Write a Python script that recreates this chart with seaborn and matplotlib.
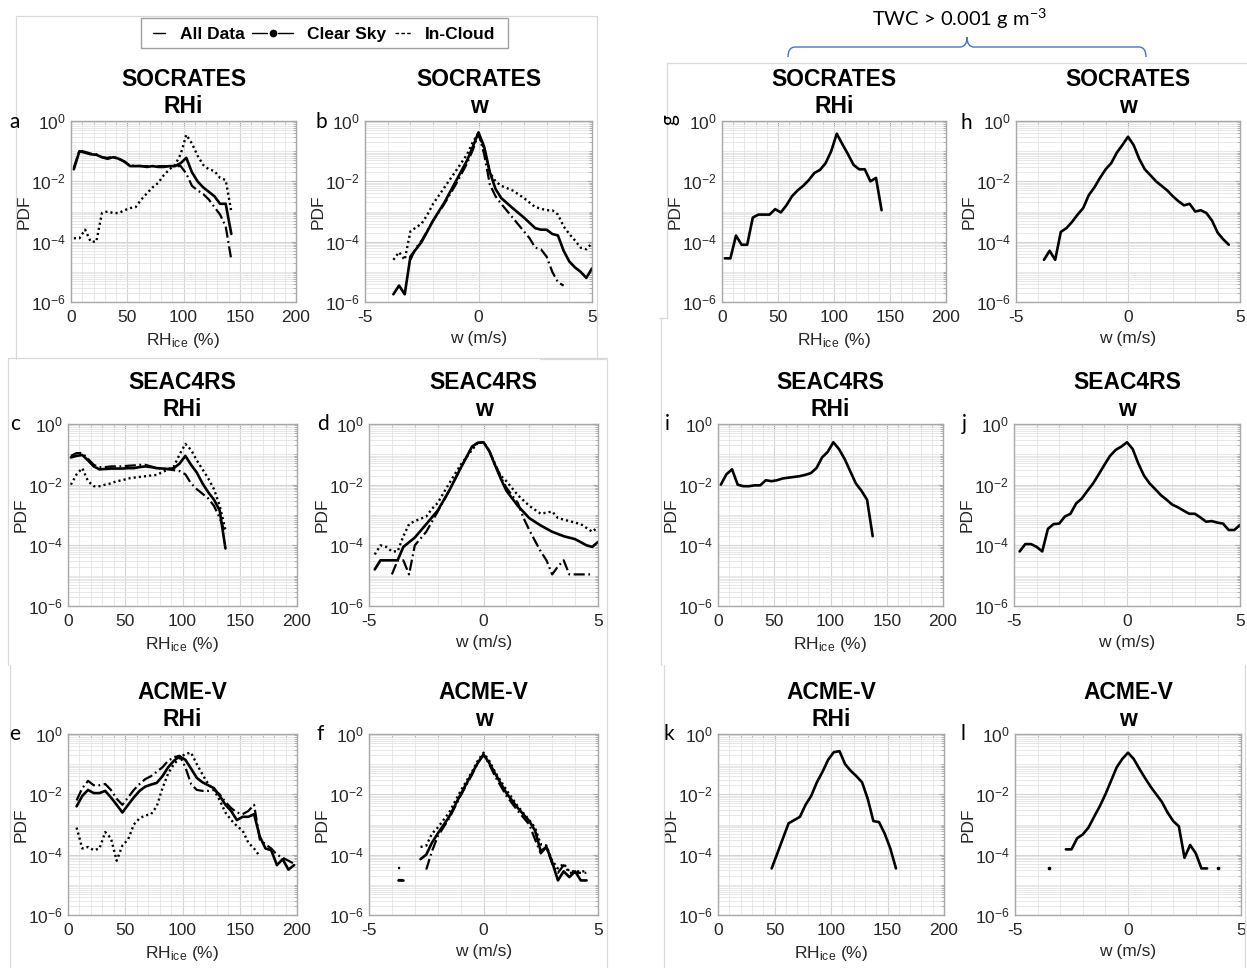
import numpy as np
import pandas as pd
import matplotlib
matplotlib.use("Agg")
import matplotlib.pyplot as plt
import seaborn as sns
from matplotlib.lines import Line2D
from matplotlib.path import Path
from matplotlib.patches import PathPatch, Rectangle
from matplotlib.ticker import FixedLocator, LogLocator, MultipleLocator, NullFormatter

# ---------------------------------------------------------------------------
# PDFs of ice relative humidity (RHi, %) and vertical velocity (w, m/s)
# ---------------------------------------------------------------------------
# RHi bin centres (5 % bins)
rhi_bins_soc = np.arange(2.5, 145, 5)          # 2.5 ... 142.5
rhi_bins_seac = np.arange(2.5, 140, 5)         # 2.5 ... 137.5
rhi_bins_acme = np.arange(7.5, 200, 5)         # 7.5 ... 197.5
rhi_bins_acme_cloud = np.arange(7.5, 170, 5)   # 7.5 ... 167.5
rhi_bins_acme_twc = np.arange(47.5, 160, 5)    # 47.5 ... 157.5

# --- SOCRATES, RHi
soc_rhi_all = [2.5e-2, 1.0e-1, 8.9e-2, 7.9e-2, 7.6e-2, 6.3e-2, 5.6e-2, 6.3e-2, 5.6e-2, 4.5e-2,
               3.2e-2, 3.2e-2, 3.2e-2, 3.0e-2, 3.2e-2, 3.0e-2, 3.0e-2, 3.2e-2, 3.2e-2, 4.0e-2,
               6.0e-2, 2.0e-2, 1.0e-2, 6.3e-3, 4.5e-3, 3.2e-3, 1.8e-3, 1.8e-3, 1.8e-4]
soc_rhi_clear = [2.8e-2, 1.05e-1, 9.5e-2, 8.3e-2, 7.9e-2, 6.3e-2, 6.0e-2, 6.6e-2, 5.6e-2, 4.5e-2,
                 3.3e-2, 3.3e-2, 3.2e-2, 3.2e-2, 3.2e-2, 3.2e-2, 3.2e-2, 3.2e-2, 3.2e-2, 3.2e-2,
                 1.8e-2, 7.1e-3, 5.0e-3, 3.8e-3, 2.5e-3, 1.4e-3, 7.9e-4, 3.2e-4, 2.5e-5]
soc_rhi_cloud = [1.3e-4, 1.3e-4, 2.5e-4, 1.0e-4, 1.0e-4, 8.9e-4, 1.0e-3, 8.9e-4, 8.9e-4, 1.1e-3,
                 1.3e-3, 1.4e-3, 2.5e-3, 4.0e-3, 6.3e-3, 8.9e-3, 1.6e-2, 2.5e-2, 3.5e-2, 7.9e-2,
                 3.5e-1, 1.8e-1, 7.1e-2, 3.5e-2, 2.5e-2, 2.2e-2, 1.3e-2, 1.1e-2, 1.0e-3]

# --- SOCRATES, w
soc_w_all_x = [-3.75, -3.5, -3.25, -3.0, -2.5, -2.0, -1.5, -1.0, -0.5, -0.25, 0, 0.25, 0.5, 0.75,
               1.0, 1.5, 2.0, 2.5, 2.75, 3.0, 3.25, 3.5, 3.75, 4.0, 4.25, 4.5, 4.75, 5.0]
soc_w_all = [1.8e-6, 3.5e-6, 1.8e-6, 3.2e-5, 1.0e-4, 5.0e-4, 2.0e-3, 1.0e-2, 5.0e-2, 1.4e-1,
             4.2e-1, 1.4e-1, 2.0e-2, 5.6e-3, 2.8e-3, 1.3e-3, 6.3e-4, 2.8e-4, 2.5e-4, 2.5e-4,
             1.8e-4, 1.6e-4, 5.0e-5, 2.2e-5, 1.4e-5, 1.0e-5, 6.3e-6, 1.3e-5]
soc_w_clear_x = [-3.0, -2.75, -2.5, -2.0, -1.5, -1.0, -0.5, -0.25, 0, 0.25, 0.5, 0.75, 1.0, 1.5,
                 2.0, 2.25, 2.5, 2.75, 3.0, 3.25, 3.5, 3.75]
soc_w_clear = [2.5e-5, 6.3e-5, 1.1e-4, 5.0e-4, 1.8e-3, 7.9e-3, 4.0e-2, 1.1e-1, 3.8e-1, 7.9e-2,
               7.9e-3, 3.2e-3, 1.8e-3, 6.3e-4, 2.2e-4, 1.3e-4, 6.3e-5, 5.6e-5, 3.2e-5, 1.0e-5,
               4.5e-6, 3.5e-6]
soc_w_cloud_x = [-3.75, -3.5, -3.25, -3.0, -2.5, -2.25, -2.0, -1.5, -1.0, -0.5, -0.25, 0, 0.25,
                 0.5, 0.75, 1.0, 1.5, 2.0, 2.5, 3.0, 3.25, 3.5, 3.75, 4.0, 4.25, 4.5, 4.75, 5.0]
soc_w_cloud = [2.5e-5, 4.5e-5, 2.5e-5, 2.2e-4, 4.0e-4, 7.9e-4, 1.8e-3, 6.3e-3, 2.2e-2, 7.9e-2,
               2.0e-1, 4.0e-1, 1.1e-1, 2.0e-2, 1.0e-2, 7.1e-3, 5.0e-3, 2.8e-3, 1.4e-3, 1.1e-3,
               1.1e-3, 7.9e-4, 3.2e-4, 1.8e-4, 1.1e-4, 6.3e-5, 5.6e-5, 8.9e-5]

# --- SEAC4RS, RHi
seac_rhi_all = [7.9e-2, 8.9e-2, 9.5e-2, 6.3e-2, 4.0e-2, 3.2e-2, 3.3e-2, 3.4e-2, 3.4e-2, 3.4e-2,
                3.5e-2, 3.5e-2, 3.8e-2, 4.0e-2, 3.8e-2, 3.5e-2, 3.4e-2, 3.3e-2, 3.5e-2, 5.0e-2,
                8.9e-2, 4.5e-2, 2.5e-2, 1.1e-2, 5.6e-3, 3.2e-3, 1.4e-3, 7.9e-5]
seac_rhi_clear = [8.9e-2, 1.1e-1, 1.1e-1, 7.1e-2, 4.5e-2, 3.8e-2, 3.8e-2, 4.0e-2, 4.0e-2, 4.0e-2,
                  4.2e-2, 4.3e-2, 4.5e-2, 4.5e-2, 4.0e-2, 3.5e-2, 3.4e-2, 3.2e-2, 3.0e-2, 2.8e-2,
                  2.2e-2, 1.1e-2, 7.1e-3, 5.0e-3, 3.5e-3, 2.0e-3, 7.9e-4, 2.5e-4]
seac_rhi_cloud = [1.0e-2, 2.2e-2, 3.5e-2, 1.3e-2, 8.9e-3, 8.9e-3, 1.0e-2, 1.1e-2, 1.3e-2, 1.4e-2,
                  1.6e-2, 1.7e-2, 1.8e-2, 1.9e-2, 2.0e-2, 2.1e-2, 2.6e-2, 3.2e-2, 4.0e-2, 1.0e-1,
                  2.2e-1, 1.4e-1, 6.3e-2, 3.2e-2, 1.6e-2, 7.1e-3, 2.0e-3, 3.2e-4]

# --- SEAC4RS, w
seac_w_all_x = [-4.75, -4.5, -4.25, -4.0, -3.75, -3.5, -3.0, -2.5, -2.0, -1.5, -1.0, -0.75, -0.5,
                -0.25, 0, 0.25, 0.5, 0.75, 1.0, 1.5, 2.0, 2.5, 3.0, 3.5, 4.0, 4.5, 4.75, 5.0]
seac_w_all = [1.6e-5, 3.2e-5, 3.2e-5, 3.2e-5, 3.2e-5, 8.9e-5, 1.8e-4, 5.0e-4, 1.4e-3, 6.3e-3,
              3.5e-2, 7.9e-2, 1.8e-1, 2.4e-1, 2.5e-1, 1.3e-1, 4.5e-2, 1.6e-2, 6.3e-3, 2.0e-3,
              7.9e-4, 4.5e-4, 2.8e-4, 2.0e-4, 1.6e-4, 1.0e-4, 8.9e-5, 1.3e-4]
seac_w_clear_x = [-4.0, -3.75, -3.5, -3.25, -3.0, -2.5, -2.0, -1.5, -1.0, -0.5, -0.25, 0, 0.25,
                  0.5, 0.75, 1.0, 1.5, 1.75, 2.0, 2.25, 2.5, 2.75, 3.0, 3.25, 3.5, 3.75, 4.0,
                  4.25, 4.75]
seac_w_clear = [1.1e-5, 3.2e-5, 3.2e-5, 1.1e-5, 1.0e-4, 2.8e-4, 1.3e-3, 6.3e-3, 3.5e-2, 1.8e-1,
                2.4e-1, 2.5e-1, 1.3e-1, 5.0e-2, 1.8e-2, 7.9e-3, 2.5e-3, 7.9e-4, 3.2e-4, 1.4e-4,
                6.3e-5, 3.2e-5, 1.1e-5, 2.0e-5, 3.2e-5, 1.1e-5, 1.1e-5, 1.1e-5, 1.1e-5]
seac_w_cloud_x = [-4.75, -4.5, -4.25, -4.0, -3.75, -3.5, -3.25, -3.0, -2.5, -2.25, -2.0, -1.5,
                  -1.0, -0.5, -0.25, 0, 0.25, 0.5, 0.75, 1.0, 1.5, 2.0, 2.5, 3.0, 3.25, 3.75,
                  4.25, 4.75, 5.0]
seac_w_cloud = [5.0e-5, 1.0e-4, 8.9e-5, 6.3e-5, 6.3e-5, 2.0e-4, 5.0e-4, 6.3e-4, 8.9e-4, 1.6e-3,
                2.5e-3, 1.1e-2, 4.5e-2, 1.4e-1, 2.4e-1, 2.5e-1, 1.3e-1, 4.5e-2, 2.0e-2, 1.3e-2,
                4.5e-3, 2.0e-3, 1.1e-3, 1.3e-3, 7.9e-4, 6.3e-4, 5.0e-4, 2.8e-4, 4.0e-4]

# --- ACME-V, RHi
acme_rhi_all = [4.0e-3, 8.9e-3, 1.4e-2, 1.1e-2, 1.1e-2, 1.3e-2, 7.9e-3, 4.5e-3, 2.5e-3, 4.5e-3,
                7.9e-3, 1.3e-2, 1.8e-2, 2.1e-2, 2.4e-2, 4.0e-2, 7.9e-2, 1.3e-1, 1.8e-1, 1.4e-1,
                7.1e-2, 3.5e-2, 2.5e-2, 2.0e-2, 1.6e-2, 8.9e-3, 4.5e-3, 2.8e-3, 1.4e-3, 1.8e-3,
                1.8e-3, 2.2e-3, 4.0e-4, 1.6e-4, 1.4e-4, 4.5e-5, 7.1e-5, 3.2e-5, 4.5e-5]
acme_rhi_clear = [6.3e-3, 1.6e-2, 2.8e-2, 2.0e-2, 2.0e-2, 2.2e-2, 1.4e-2, 7.1e-3, 4.5e-3, 7.9e-3,
                  1.4e-2, 2.2e-2, 3.2e-2, 4.0e-2, 5.6e-2, 7.9e-2, 1.3e-1, 1.7e-1, 1.9e-1, 7.9e-2,
                  2.2e-2, 1.4e-2, 1.3e-2, 1.3e-2, 1.4e-2, 1.0e-2, 5.6e-3, 3.5e-3, 2.5e-3, 2.2e-3,
                  2.8e-3, 4.5e-3, 3.2e-4, 2.2e-4, 1.6e-4, 1.0e-4, 7.9e-5, 6.3e-5, 5.0e-5]
acme_rhi_cloud = [7.9e-4, 1.6e-4, 1.8e-4, 1.4e-4, 1.6e-4, 5.6e-4, 3.5e-4, 6.3e-5, 2.0e-4, 3.2e-4,
                  1.0e-3, 1.6e-3, 2.0e-3, 2.2e-3, 4.0e-3, 1.6e-2, 5.0e-2, 1.0e-1, 1.6e-1, 2.2e-1,
                  2.4e-1, 1.0e-1, 4.5e-2, 2.2e-2, 1.4e-2, 6.3e-3, 2.5e-3, 1.4e-3, 8.9e-4, 6.3e-4,
                  2.5e-4, 1.6e-4, 8.9e-5]

# --- ACME-V, w (nan marks an empty bin)
acme_w_x = [-3.75, -3.5, -3.0, -2.75, -2.5, -2.25, -2.0, -1.5, -1.0, -0.5, -0.25, 0, 0.25, 0.5,
            1.0, 1.5, 2.0, 2.25, 2.5, 2.75, 3.0, 3.25, 3.5, 3.75, 4.0, 4.25, 4.5]
acme_w_all = [1.4e-5, 1.4e-5, np.nan, 7.1e-5, 1.0e-4, 2.5e-4, 5.0e-4, 1.8e-3, 1.0e-2, 5.0e-2,
              1.1e-1, 2.1e-1, 1.1e-1, 5.0e-2, 1.1e-2, 3.5e-3, 1.3e-3, 6.3e-4, 1.3e-4, 1.8e-4,
              5.6e-5, 1.4e-5, 2.8e-5, 1.8e-5, 2.8e-5, 1.4e-5, 1.4e-5]
acme_w_clear = [1.4e-5, 1.4e-5, np.nan, np.nan, 3.2e-5, 1.3e-4, 4.0e-4, 1.6e-3, 8.9e-3, 4.5e-2,
                1.1e-1, 2.0e-1, 1.0e-1, 4.0e-2, 8.9e-3, 2.8e-3, 1.0e-3, 3.2e-4, 1.1e-4, 1.8e-4,
                5.0e-5, 2.5e-5, 4.5e-5, 2.5e-5, 2.5e-5, 2.5e-5, 2.5e-5]
acme_w_cloud = [3.5e-5, 3.5e-5, np.nan, 1.8e-4, 2.0e-4, 5.0e-4, 7.9e-4, 2.5e-3, 1.3e-2, 5.6e-2,
                1.3e-1, 2.4e-1, 1.3e-1, 5.6e-2, 1.4e-2, 4.0e-3, 1.4e-3, 7.9e-4, 2.2e-4, 2.0e-4,
                6.3e-5, 3.5e-5, 5.0e-5, 2.8e-5, 2.8e-5, 2.8e-5, 2.8e-5]

# --- TWC > 0.001 g m-3 (in-cloud, all data)
soc_twc_rhi = [2.8e-5, 2.8e-5, 1.6e-4, 7.9e-5, 7.9e-5, 6.3e-4, 7.9e-4, 7.9e-4, 7.9e-4, 1.2e-3,
               9.3e-4, 1.6e-3, 3.2e-3, 5.0e-3, 7.1e-3, 1.1e-2, 1.9e-2, 2.4e-2, 4.0e-2, 1.0e-1,
               3.8e-1, 1.7e-1, 7.9e-2, 3.5e-2, 2.5e-2, 2.5e-2, 1.0e-2, 1.3e-2, 1.1e-3]
soc_twc_w_x = [-3.75, -3.5, -3.25, -3.0, -2.75, -2.5, -2.25, -2.0, -1.75, -1.5, -1.25, -1.0,
               -0.75, -0.5, -0.25, 0, 0.25, 0.5, 0.75, 1.0, 1.25, 1.5, 1.75, 2.0, 2.25, 2.5,
               2.75, 3.0, 3.25, 3.5, 3.75, 4.0, 4.25, 4.5]
soc_twc_w = [2.5e-5, 5.0e-5, 2.5e-5, 2.1e-4, 2.8e-4, 4.5e-4, 7.9e-4, 1.3e-3, 3.5e-3, 6.3e-3,
             1.3e-2, 2.5e-2, 4.0e-2, 8.9e-2, 1.6e-1, 3.0e-1, 1.6e-1, 5.6e-2, 2.5e-2, 1.6e-2,
             1.0e-2, 7.1e-3, 5.0e-3, 3.2e-3, 2.2e-3, 1.6e-3, 1.8e-3, 1.0e-3, 1.1e-3, 8.9e-4,
             5.0e-4, 2.0e-4, 1.2e-4, 7.9e-5]
seac_twc_rhi = [1.0e-2, 2.2e-2, 3.2e-2, 1.0e-2, 8.9e-3, 8.9e-3, 9.5e-3, 9.5e-3, 1.4e-2, 1.3e-2,
                1.4e-2, 1.6e-2, 1.7e-2, 1.8e-2, 1.9e-2, 2.1e-2, 2.4e-2, 3.5e-2, 7.9e-2, 1.2e-1,
                2.5e-1, 1.5e-1, 7.1e-2, 2.8e-2, 1.1e-2, 6.3e-3, 3.2e-3, 2.0e-4]
seac_twc_w_x = [-4.75, -4.5, -4.25, -4.0, -3.75, -3.5, -3.25, -3.0, -2.75, -2.5, -2.25, -2.0,
                -1.75, -1.5, -1.25, -1.0, -0.75, -0.5, -0.25, 0, 0.25, 0.5, 0.75, 1.0, 1.25,
                1.5, 1.75, 2.0, 2.25, 2.5, 2.75, 3.0, 3.25, 3.5, 3.75, 4.0, 4.25, 4.5, 4.75, 5.0]
seac_twc_w = [6.3e-5, 1.1e-4, 1.1e-4, 8.9e-5, 6.3e-5, 3.5e-4, 5.0e-4, 5.2e-4, 8.9e-4, 1.1e-3,
              2.4e-3, 3.5e-3, 6.3e-3, 1.1e-2, 2.2e-2, 4.5e-2, 8.9e-2, 1.4e-1, 1.8e-1, 2.5e-1,
              1.5e-1, 5.0e-2, 2.0e-2, 1.1e-2, 7.1e-3, 4.5e-3, 3.2e-3, 2.2e-3, 1.8e-3, 1.4e-3,
              1.1e-3, 1.1e-3, 8.3e-4, 6.0e-4, 6.3e-4, 5.6e-4, 5.2e-4, 3.2e-4, 3.2e-4, 4.7e-4]
acme_twc_rhi = [3.5e-5, 1.1e-4, 3.5e-4, 1.1e-3, 1.4e-3, 1.8e-3, 4.5e-3, 8.9e-3, 2.5e-2, 5.6e-2,
                1.4e-1, 2.5e-1, 2.7e-1, 1.0e-1, 6.0e-2, 4.0e-2, 2.5e-2, 7.1e-3, 1.3e-3, 1.2e-3,
                5.0e-4, 1.6e-4, 3.5e-5]
acme_twc_w_x = [-3.5, -3.0, -2.75, -2.5, -2.25, -2.0, -1.75, -1.5, -1.25, -1.0, -0.75, -0.5,
                -0.25, 0, 0.25, 0.5, 0.75, 1.0, 1.25, 1.5, 1.75, 2.0, 2.25, 2.5, 2.75, 3.0,
                3.25, 3.5, 3.75, 4.0]
acme_twc_w = [3.5e-5, np.nan, 1.5e-4, 1.5e-4, 3.5e-4, 4.7e-4, 7.9e-4, 1.8e-3, 4.0e-3, 1.0e-2,
              2.8e-2, 7.9e-2, 1.5e-1, 2.4e-1, 1.5e-1, 7.1e-2, 3.5e-2, 1.8e-2, 1.0e-2, 5.6e-3,
              2.5e-3, 1.3e-3, 8.7e-4, 7.9e-5, 2.1e-4, 1.1e-4, 3.5e-5, 3.5e-5, np.nan, 3.5e-5]

# legend labels and the caption over the right-hand block
series_labels = ["All Data", "Clear Sky", "In-Cloud"]
twc_label = "TWC > 0.001 g m$^{\\mathregular{-3}}$"

# ---------------------------------------------------------------------------
# styling
# ---------------------------------------------------------------------------
sns.set_theme(style="white")
plt.rcParams["font.family"] = ["Liberation Sans", "DejaVu Sans"]
plt.rcParams["mathtext.fontset"] = "custom"
plt.rcParams["mathtext.rm"] = "Liberation Sans"
plt.rcParams["mathtext.it"] = "Liberation Sans:italic"
plt.rcParams["mathtext.bf"] = "Liberation Sans:bold"
plt.rcParams["axes.unicode_minus"] = False

W, H = 1247, 968
fig = plt.figure(figsize=(W / 100, H / 100), dpi=100)
fig.patch.set_facecolor("white")

LINE = {
    "all": dict(linestyle="-", linewidth=1.9),
    "clear": dict(linestyle=(0, (5.0, 1.6, 0.8, 1.6)), linewidth=1.6),
    "cloud": dict(linestyle=(0, (0.9, 1.3)), linewidth=1.7),
}
FRAME = "#a8a8a8"
TEXT = "#262626"


def fx(px):
    return px / W


def fy(py):
    return 1 - py / H


def draw_curve(ax, x, y, kind):
    df = pd.DataFrame({"x": np.asarray(x, float), "pdf": np.asarray(y, float)})
    df["seg"] = df["pdf"].isna().cumsum()
    df = df.dropna()
    size = df.groupby("seg")["x"].transform("size")
    runs = df[size > 1]
    if len(runs):
        sns.lineplot(data=runs, x="x", y="pdf", units="seg", estimator=None, sort=False,
                     color="black", ax=ax, legend=False, **LINE[kind])
    lone = df[size == 1]
    if len(lone):
        ax.plot(lone["x"], lone["pdf"], ls="none", marker="o", ms=1.6, color="black")


def style_axes(ax, var, box):
    l, r, t, b = box
    ax.set_yscale("log")
    ax.set_ylim(1e-6, 1)
    ax.yaxis.set_major_locator(FixedLocator([1e-6, 1e-4, 1e-2, 1]))
    ax.yaxis.set_minor_locator(LogLocator(base=10, subs=np.arange(1, 10), numticks=60))
    ax.yaxis.set_minor_formatter(NullFormatter())
    if var == "RHi":
        ax.set_xlim(0, 200)
        ax.xaxis.set_major_locator(MultipleLocator(50))
        ax.xaxis.set_minor_locator(MultipleLocator(10))
        ax.set_xlabel("RH$_{\\mathregular{ice}}$ (%)", fontsize=12.5, color=TEXT)
    else:
        ax.set_xlim(-5, 5)
        ax.xaxis.set_major_locator(FixedLocator([-5, 0, 5]))
        ax.xaxis.set_minor_locator(MultipleLocator(1))
        ax.set_xlabel("w (m/s)", fontsize=12.5, color=TEXT)
    ax.set_ylabel("PDF", fontsize=12.5, color=TEXT)
    wpx, hpx = r - l, b - t
    ax.yaxis.set_label_coords(-39 / wpx, 0.5)
    ax.xaxis.set_label_coords(0.5, -29 / hpx)

    ax.set_axisbelow(True)
    ax.grid(True, which="major", color="#d4d4d4", linewidth=0.8)
    ax.grid(True, which="minor", color="#e4e4e4", linewidth=0.6)
    ax.tick_params(which="both", direction="in", top=True, right=True, colors=FRAME,
                   labelcolor=TEXT, labelsize=12.5)
    ax.tick_params(which="major", length=3.5, width=0.8)
    ax.tick_params(which="minor", length=2, width=0.6)
    ax.tick_params(axis="x", pad=6)
    ax.tick_params(axis="y", pad=3.5)
    for sp in ax.spines.values():
        sp.set_color(FRAME)
        sp.set_linewidth(1.0)


# panel letter, campaign, variable, pixel box (left, right, top, bottom),
# letter anchor (x, baseline) and the curves drawn in it
panels = [
    ("a", "SOCRATES", "RHi", (71, 296, 121, 302), (15, 128),
     [(rhi_bins_soc, soc_rhi_clear, "clear"), (rhi_bins_soc, soc_rhi_cloud, "cloud"),
      (rhi_bins_soc, soc_rhi_all, "all")]),
    ("b", "SOCRATES", "w", (365, 592, 121, 302), (321, 128),
     [(soc_w_clear_x, soc_w_clear, "clear"), (soc_w_cloud_x, soc_w_cloud, "cloud"),
      (soc_w_all_x, soc_w_all, "all")]),
    ("c", "SEAC4RS", "RHi", (68, 297, 424, 606), (15, 430),
     [(rhi_bins_seac, seac_rhi_clear, "clear"), (rhi_bins_seac, seac_rhi_cloud, "cloud"),
      (rhi_bins_seac, seac_rhi_all, "all")]),
    ("d", "SEAC4RS", "w", (369, 598, 424, 606), (323, 430),
     [(seac_w_clear_x, seac_w_clear, "clear"), (seac_w_cloud_x, seac_w_cloud, "cloud"),
      (seac_w_all_x, seac_w_all, "all")]),
    ("e", "ACME-V", "RHi", (68, 297, 734, 915), (15, 740),
     [(rhi_bins_acme, acme_rhi_clear, "clear"), (rhi_bins_acme_cloud, acme_rhi_cloud, "cloud"),
      (rhi_bins_acme, acme_rhi_all, "all")]),
    ("f", "ACME-V", "w", (369, 598, 734, 915), (320, 740),
     [(acme_w_x, acme_w_clear, "clear"), (acme_w_x, acme_w_cloud, "cloud"),
      (acme_w_x, acme_w_all, "all")]),
    ("g", "SOCRATES", "RHi", (722, 946, 121, 302), (669, 126),
     [(rhi_bins_soc, soc_twc_rhi, "all")]),
    ("h", "SOCRATES", "w", (1016, 1240, 121, 302), (966, 129),
     [(soc_twc_w_x, soc_twc_w, "all")]),
    ("i", "SEAC4RS", "RHi", (718, 943, 424, 606), (667, 430),
     [(rhi_bins_seac, seac_twc_rhi, "all")]),
    ("j", "SEAC4RS", "w", (1014, 1240, 424, 606), (964, 430),
     [(seac_twc_w_x, seac_twc_w, "all")]),
    ("k", "ACME-V", "RHi", (718, 944, 734, 915), (669, 740),
     [(rhi_bins_acme_twc, acme_twc_rhi, "all")]),
    ("l", "ACME-V", "w", (1015, 1241, 734, 915), (963, 740),
     [(acme_twc_w_x, acme_twc_w, "all")]),
]

# faint frames around the three stacked blocks on each side
frame_lines = [
    ((16, 597), (16, 16)), ((16, 16), (16, 359)), ((597, 597), (16, 359)), ((540, 605), (359, 359)),
    ((8, 607), (358, 358)), ((8, 8), (358, 665)), ((607, 607), (358, 968)), ((10, 10), (665, 968)),
    ((667, 1247), (63, 63)), ((667, 667), (63, 318)), ((659, 667), (318, 318)),
    ((661, 661), (318, 665)), ((664, 664), (665, 968)), ((1245, 1245), (665, 968)),
]
for xs, ys in frame_lines:
    fig.add_artist(Line2D([fx(v) for v in xs], [fy(v) for v in ys], color="#d9d9d9", lw=0.9))

for letter, campaign, var, box, lpos, curves in panels:
    l, r, t, b = box
    ax = fig.add_axes([fx(l), fy(b), fx(r - l), (b - t) / H])
    ax.set_yscale("log")
    for x, y, kind in curves:
        draw_curve(ax, x, y, kind)
    style_axes(ax, var, box)
    fig.text(fx((l + r) / 2), fy(t - 3), f"{campaign}\n{var}", ha="center", va="bottom",
             fontsize=16.5, fontweight="bold", color="black", linespacing=1.22)
    if letter == "g":
        fig.text(fx(lpos[0]), fy(lpos[1] - 6), letter, ha="center", va="center", rotation=90,
                 fontsize=15, family=["Lato", "DejaVu Sans"], color="black")
    else:
        fig.text(fx(lpos[0]), fy(lpos[1]), letter, ha="center", va="baseline",
                 fontsize=15, family=["Lato", "DejaVu Sans"], color="black")

# ---------------------------------------------------------------------------
# legend box drawn above the left block
# ---------------------------------------------------------------------------
fig.add_artist(Rectangle((fx(141), fy(48)), fx(508 - 141), (48 - 18) / H, fill=False,
                         edgecolor="#a0a0a0", lw=1.0, transform=fig.transFigure))
ly = fy(33)
fig.add_artist(Line2D([fx(153), fx(165)], [ly, ly], color="black", lw=1.0))
fig.add_artist(Line2D([fx(252), fx(267)], [ly, ly], color="black", lw=1.0))
fig.add_artist(Line2D([fx(278), fx(293)], [ly, ly], color="black", lw=1.0))
fig.add_artist(Line2D([fx(272.5)], [ly], color="black", marker="o", ms=4.5, ls="none"))
fig.add_artist(Line2D([fx(395), fx(412)], [ly, ly], color="black", lw=1.0, ls=(0, (2.6, 1.6))))
for xpos, lab in zip([180, 307, 425], series_labels):
    fig.text(fx(xpos), ly, lab, ha="left", va="center_baseline", fontsize=12.5,
             fontweight="bold", color="black")

# ---------------------------------------------------------------------------
# brace and caption over the right block
# ---------------------------------------------------------------------------
fig.text(fx(959), fy(19), twc_label, ha="center", va="center", fontsize=14.5,
         family=["Lato", "DejaVu Sans"], color="black")
bx0, bx1, bxm = 788, 1146, 967
yb, yt, ytip = 47, 57, 37
verts = [(bx0, yt), (bx0, yb), (bx0 + 7, yb), (bxm - 7, yb), (bxm, yb), (bxm, ytip),
         (bxm, yb), (bxm + 7, yb), (bx1 - 7, yb), (bx1, yb), (bx1, yt)]
codes = [Path.MOVETO, Path.CURVE3, Path.CURVE3, Path.LINETO, Path.CURVE3, Path.CURVE3,
         Path.CURVE3, Path.CURVE3, Path.LINETO, Path.CURVE3, Path.CURVE3]
brace = Path([(fx(px), fy(py)) for px, py in verts], codes)
fig.add_artist(PathPatch(brace, facecolor="none", edgecolor="#4a72c0", lw=1.0,
                         transform=fig.transFigure))

fig.savefig("out.png", dpi=100, facecolor="white")
